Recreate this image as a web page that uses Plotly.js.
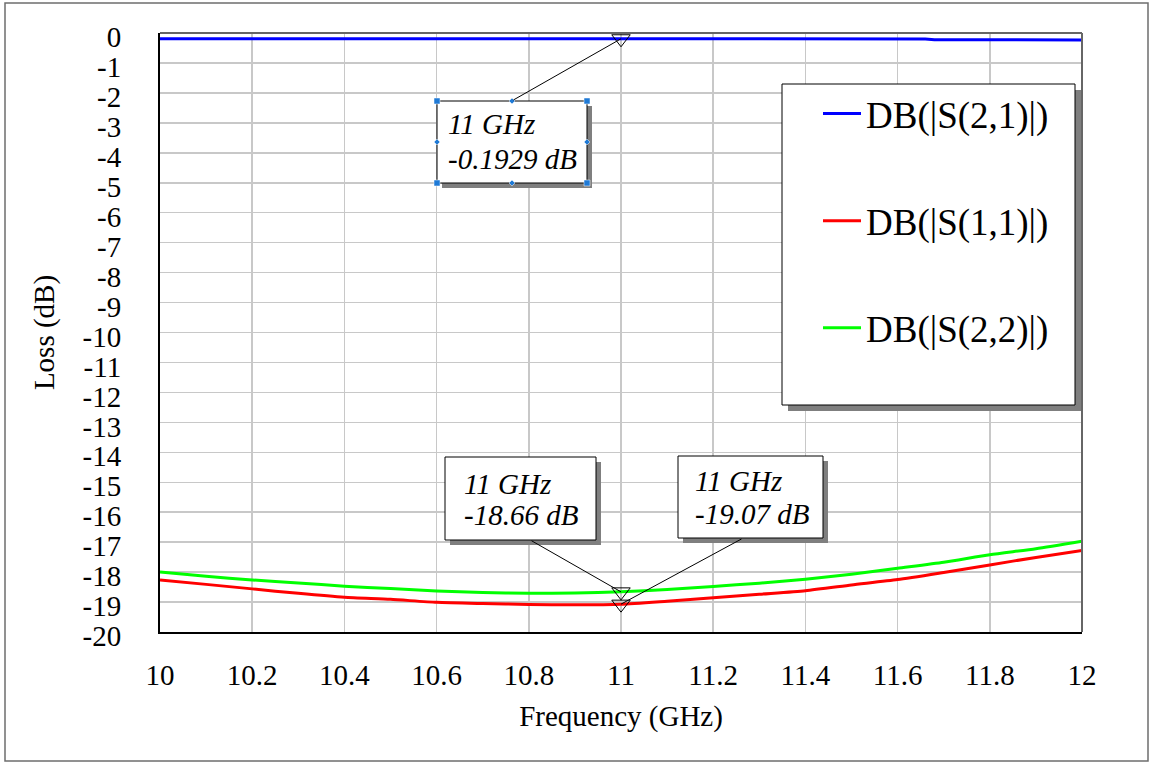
<!DOCTYPE html>
<html><head><meta charset="utf-8">
<script src="https://cdn.plot.ly/plotly-3.0.1.min.js"></script>
<style>html,body{margin:0;padding:0;background:#fff;}#chart{width:1151px;height:763px;}</style>
</head><body><div id="chart"></div>
<script>
// ---- data ----
const freq = [10.0,10.1,10.2,10.3,10.4,10.5,10.6,10.7,10.8,10.9,11.0,11.1,11.2,11.3,11.4,11.5,11.6,11.7,11.8,11.9,12.0];
const s11 = [-18.26,-18.41,-18.56,-18.71,-18.84,-18.91,-19.01,-19.05,-19.08,-19.09,-19.07,-18.97,-18.86,-18.74,-18.62,-18.43,-18.25,-18.01,-17.76,-17.51,-17.28];
const s22 = [-18.00,-18.14,-18.26,-18.36,-18.47,-18.55,-18.63,-18.68,-18.71,-18.70,-18.66,-18.58,-18.48,-18.37,-18.24,-18.07,-17.87,-17.67,-17.42,-17.22,-16.97];
const freqS21 = [10.0,10.5,11.0,11.5,11.66,11.68,12.0];
const s21 = [-0.188,-0.190,-0.1929,-0.195,-0.197,-0.226,-0.230];
const markerFreq = [11, 11, 11];
const markerVal = [-0.1929, -18.66, -19.07];
const markerFreqText = ['11 GHz', '11 GHz', '11 GHz'];
const markerValText = ['-0.1929 dB', '-18.66 dB', '-19.07 dB'];
const seriesNames = ['DB(|S(2,1)|)', 'DB(|S(1,1)|)', 'DB(|S(2,2)|)'];
const xTicks = [10,10.2,10.4,10.6,10.8,11,11.2,11.4,11.6,11.8,12];
const yTicks = [0,-1,-2,-3,-4,-5,-6,-7,-8,-9,-10,-11,-12,-13,-14,-15,-16,-17,-18,-19,-20];

// ---- geometry helpers (pixel -> paper) ----
const W = 1151, H = 763;
const M = {l:160, r:69, t:33, b:131};
const PW = W - M.l - M.r, PH = H - M.t - M.b;
const px = x => (x - M.l) / PW;
const py = y => (H - M.b - y) / PH;
const FONT = 'Liberation Serif';

function rect(x0, y0, x1, y1, opts) {
  return Object.assign({type:'rect', xref:'paper', yref:'paper', x0:px(x0), x1:px(x1), y0:py(y1), y1:py(y0), layer:'above'}, opts);
}
function boxWithShadow(x0, y0, x1, y1, d) {
  return [
    rect(x0 + d, y0 + d, x1 + d, y1 + d, {fillcolor:'#7f7f7f', line:{width:0}}),
    rect(x0, y0, x1, y1, {fillcolor:'#ffffff', line:{color:'#000', width:1}})
  ];
}
function handle(cx, cy, diamond) {
  const s = 3;
  if (!diamond) return rect(cx - s, cy - s, cx + s, cy + s, {fillcolor:'#1f7ad6', line:{color:'#ffffff', width:0.5}});
  const p = (x, y) => px(x).toFixed(5) + ',' + py(y).toFixed(5);
  return {type:'path', xref:'paper', yref:'paper', layer:'above',
    path:'M' + p(cx, cy - s) + 'L' + p(cx + s, cy) + 'L' + p(cx, cy + s) + 'L' + p(cx - s, cy) + 'Z',
    fillcolor:'#1f7ad6', line:{color:'#ffffff', width:0.5}};
}

const shapes = [
  rect(5, 3, 1148, 761, {layer:'below', line:{color:'#6e6e6e', width:1.5}, fillcolor:'rgba(0,0,0,0)'}),
  {type:'line', xref:'paper', yref:'paper', x0:0, x1:1, y0:1, y1:1, line:{color:'#666', width:2}, layer:'above'},
  {type:'line', xref:'paper', yref:'paper', x0:1, x1:1, y0:0, y1:1, line:{color:'#666', width:2}, layer:'above'},
  ...boxWithShadow(782, 84, 1075, 405, 6),
  ...boxWithShadow(437, 101, 587, 183, 5),
  ...boxWithShadow(445, 457, 596, 540, 5),
  ...boxWithShadow(678, 456, 823, 538, 5),
  handle(437, 101), handle(587, 101), handle(437, 183), handle(587, 183),
  handle(512, 101, true), handle(512, 183, true), handle(437, 142, true), handle(587, 142, true)
];

// text line positions inside each marker box: [x1, y1, x2, y2]
const textPos = [[446, 124, 446, 158.5], [462, 483.5, 462, 515], [693, 481, 693, 513.5]];
const arrowOff = [[-109, 62], [-91, -52], [122, -66]];
const annFont = {family:FONT, size:29, color:'#000', style:'italic'};
const annotations = [];
markerVal.forEach((v, i) => {
  const tp = textPos[i];
  annotations.push({xref:'paper', yref:'paper', x:px(tp[0]), y:py(tp[1]), xanchor:'left', yanchor:'middle',
    text:markerFreqText[i], showarrow:false, font:annFont});
  annotations.push({xref:'paper', yref:'paper', x:px(tp[2]), y:py(tp[3]), xanchor:'left', yanchor:'middle',
    text:markerValText[i], showarrow:false, font:annFont});
  annotations.push({xref:'x', yref:'y', x:markerFreq[i], y:v, text:' ', font:{size:1},
    showarrow:true, arrowhead:0, arrowwidth:1, arrowcolor:'#000', ax:arrowOff[i][0], ay:arrowOff[i][1], standoff:0, startstandoff:0});
});

const traces = [
  {x:freqS21, y:s21, name:seriesNames[0], mode:'lines', line:{color:'#0000ff', width:3}, legendgroup:'a'},
  {x:freq, y:s11, name:seriesNames[1], mode:'lines', line:{color:'#ff0000', width:3, shape:'spline', smoothing:0.6}, legendgroup:'b'},
  {x:freq, y:s22, name:seriesNames[2], mode:'lines', line:{color:'#00ff00', width:3, shape:'spline', smoothing:0.6}, legendgroup:'c'},
  {x:markerFreq, y:markerVal, mode:'markers', showlegend:false, hoverinfo:'skip',
   marker:{symbol:'triangle-down-open', size:16, color:'#000', line:{width:1, color:'#000'}}}
];

const layout = {
  width:W, height:H, margin:M, paper_bgcolor:'#fff', plot_bgcolor:'#fff',
  font:{family:FONT, size:29, color:'#000'},
  showlegend:true,
  legend:{x:px(818), y:py(83), xanchor:'left', yanchor:'top', bgcolor:'rgba(0,0,0,0)', borderwidth:0,
    font:{family:FONT, size:37, color:'#000'}, tracegroupgap:56, itemwidth:38},
  xaxis:{range:[10,12], tickvals:xTicks, ticktext:xTicks.map(String), showgrid:true, gridcolor:'#c8c8c8', gridwidth:1.5,
    zeroline:false, showline:true, linecolor:'#000', linewidth:2, ticks:'', ticklabelstandoff:16,
    tickfont:{family:FONT, size:29, color:'#000'},
    title:{text:'Frequency (GHz)', font:{family:FONT, size:29, color:'#000'}, standoff:16}},
  yaxis:{range:[-20,0], tickvals:yTicks, ticktext:yTicks.map(String), showgrid:true, gridcolor:'#c8c8c8', gridwidth:1.5,
    zeroline:false, showline:true, linecolor:'#000', linewidth:2, ticks:'', ticklabelstandoff:31, ticklabelshift:4,
    tickfont:{family:FONT, size:29, color:'#000'},
    title:{text:'Loss (dB)', font:{family:FONT, size:29, color:'#000'}, standoff:19}},
  shapes:shapes,
  annotations:annotations
};

Plotly.newPlot('chart', traces, layout, {displayModeBar:false, staticPlot:true});
</script>
</body></html>
